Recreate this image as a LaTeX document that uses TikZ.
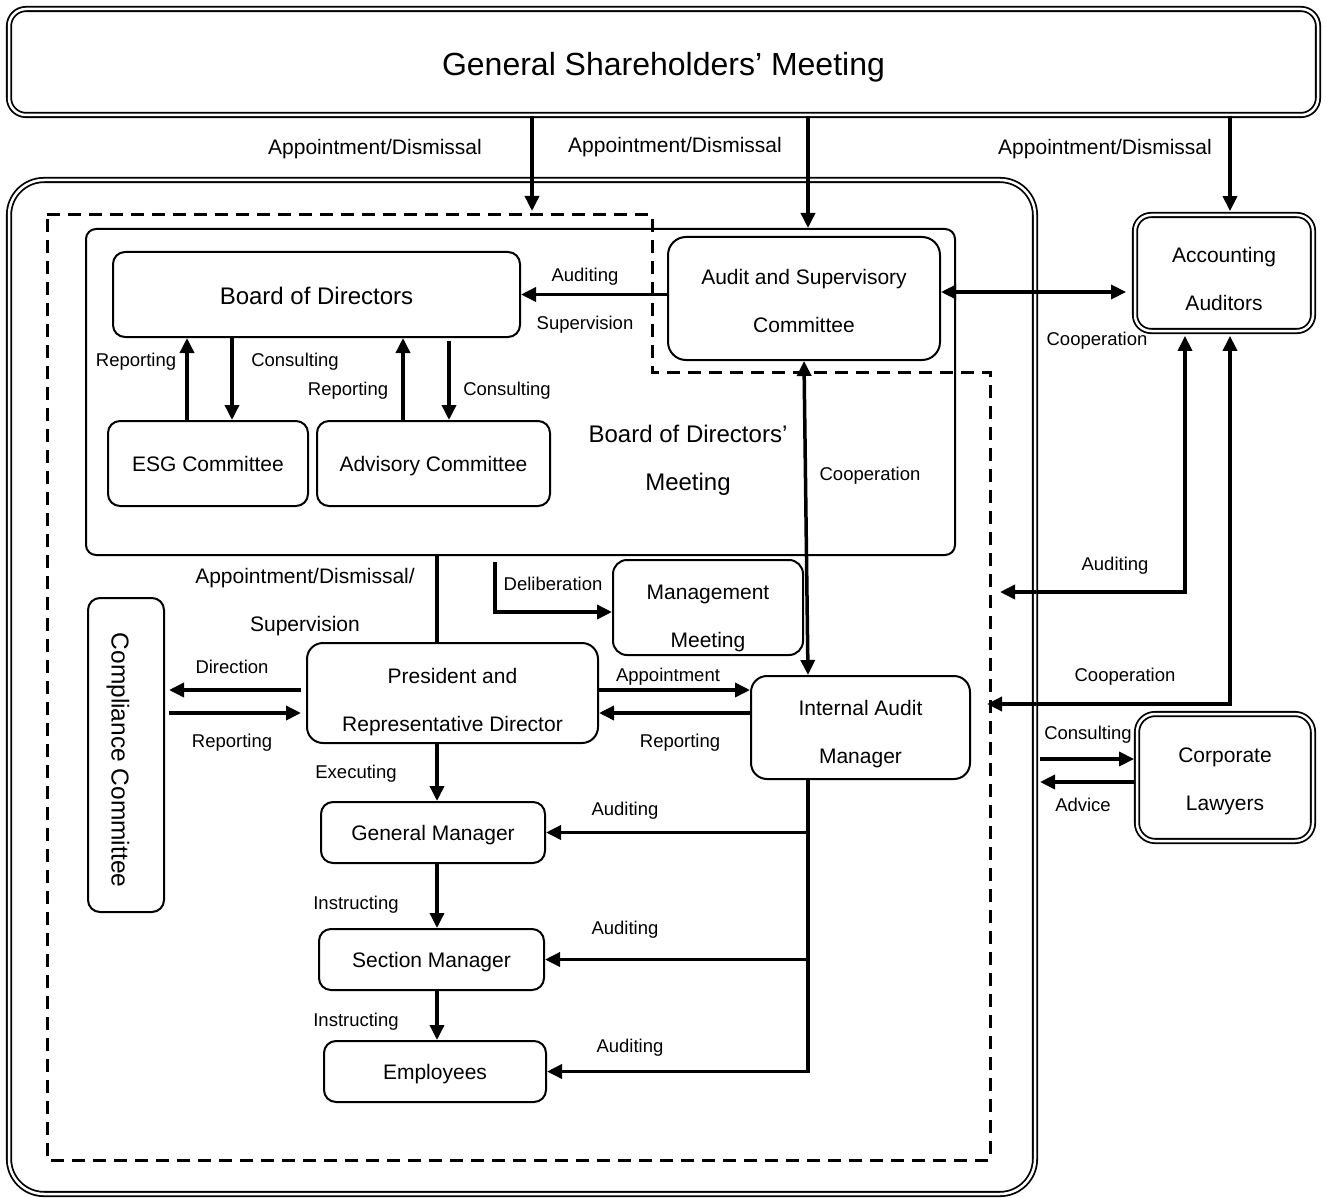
\documentclass[tikz,border=0pt]{standalone}
\usepackage{fontspec}
\setmainfont{Liberation Sans}
\usetikzlibrary{arrows.meta}
\newcommand{\tl}[1]{\rule{0pt}{#1}}
\newcommand{\bl}{\rule[-5pt]{0pt}{5pt}}
\tikzstyle{box}=[rectangle, draw, line width=2pt, rounded corners=12pt, inner sep=0pt, align=center, font=\fontsize{21}{48}\selectfont]
\tikzstyle{one}=[text height=16pt, text depth=0pt]
\tikzstyle{dblbox}=[box, line width=1.8pt, double=white, double distance=2.5pt]
\tikzstyle{lbl}=[inner sep=0pt, font=\fontsize{18.5}{22}\selectfont]
\tikzstyle{biglbl}=[inner sep=0pt, font=\fontsize{21}{24}\selectfont]
\tikzstyle{ln}=[line width=3.5pt]
\tikzstyle{arr}=[line width=3.5pt, -{Triangle[length=15pt,width=14pt]}]
\tikzstyle{darr}=[line width=3.5pt, {Triangle[length=15pt,width=14pt]}-{Triangle[length=15pt,width=14pt]}]
\begin{document}
\begin{tikzpicture}[x=1pt, y=-1pt]
  \useasboundingbox (0,0) rectangle (1327,1198);
  \node[dblbox, rounded corners=17pt, minimum width=1309pt, minimum height=106pt, text height=27pt, text depth=0pt, font=\fontsize{32}{36}\selectfont] (gsm) at (663.5,62) {General Shareholders’ Meeting};
  \draw[line width=1.8pt, double=white, double distance=2.5pt, rounded corners=35pt] (9,180) rectangle (1035,1194);
  \draw[line width=3pt, dash pattern=on 13pt off 8pt] (47,215) -- (652,215) -- (652,372) -- (990,372) -- (990,1160) -- (47,1160) -- cycle;

  \node[box, rounded corners=10pt, minimum width=869pt, minimum height=326pt] (bodm) at (520.5,392) {};
  \node[align=center, inner sep=0pt, font=\fontsize{24}{48}\selectfont] (bodmtxt) at (688,460) {Board of Directors’\\Meeting};
  \node[box, one, text height=20pt, minimum width=407pt, minimum height=85pt, font=\fontsize{24}{28}\selectfont] (bod) at (316.5,294.5) {Board of Directors};
  \node[box, one, minimum width=200pt, minimum height=85pt] (esg) at (208,463.5) {ESG Committee};
  \node[box, one, minimum width=233pt, minimum height=85pt] (adv) at (433.5,463.5) {Advisory Committee};
  \node[box, rounded corners=18pt, minimum width=272pt, minimum height=123pt] (audit) at (804,298.5) {\tl{25pt}Audit and Supervisory\\Committee\bl};
  \node[dblbox, rounded corners=16pt, minimum width=178pt, minimum height=116pt] (acc) at (1224,273) {\tl{32pt}Accounting\\Auditors\bl};
  \node[box, rounded corners=14pt, minimum width=190pt, minimum height=95pt] (mgmt) at (708,607.5) {\tl{37pt}Management\\Meeting\bl};
  \node[box, rounded corners=16pt, minimum width=291pt, minimum height=100pt] (pres) at (452.5,693) {\tl{34pt}President and\\Representative Director\bl};
  \node[box, rounded corners=16pt, minimum width=219pt, minimum height=103pt] (iam) at (860.5,727.5) {\tl{29pt}Internal Audit\\Manager\bl};
  \node[box, minimum width=76pt, minimum height=314pt, label={[xshift=-8pt, yshift=-5pt, rotate=-90, font=\fontsize{24.5}{28}\selectfont]center:Compliance Committee}] (comp) at (126,755) {};
  \node[box, one, minimum width=224pt, minimum height=61pt] (gm) at (433,832.5) {General Manager};
  \node[box, one, minimum width=225pt, minimum height=61pt] (sm) at (431.5,959.5) {Section Manager};
  \node[box, one, minimum width=222pt, minimum height=61pt] (emp) at (435,1071.5) {Employees};
  \node[dblbox, rounded corners=18pt, minimum width=176pt, minimum height=127pt] (law) at (1225,777.5) {\tl{23pt}Corporate\\Lawyers\bl};

  \coordinate (dtop) at (532,215);
  \coordinate (dr1) at (1000,592);
  \coordinate (dr2) at (987,704);
  \coordinate (lc) at (1040,759);
  \coordinate (la) at (1040,782);

  \draw[arr, shorten >=4pt] (gsm.south -| dtop) -- (dtop);
  \draw[arr] (gsm.south -| 808,0) -- (bodm.north -| 808,0);
  \draw[arr, shorten >=3pt] (gsm.south -| 1230,0) -- (acc.north -| 1230,0);
  \draw[arr] (audit.west |- bod.east) -- (bod.east);
  \draw[darr, shorten >=8pt] (audit.east |- 0,292) -- (acc.west |- 0,292);
  \draw[darr] (audit.south) -- (iam.north -| 808,0);
  \draw[arr] (esg.north -| 187,0) -- (bod.south -| 187,0);
  \draw[arr] (bod.south -| 232,0) -- (esg.north -| 232,0);
  \draw[arr] (adv.north -| 403,0) -- (bod.south -| 403,0);
  \draw[arr, shorten <=3pt] (bod.south -| 449,0) -- (adv.north -| 449,0);
  \draw[ln] (bodm.south -| 437,0) -- (pres.north -| 437,0);
  \draw[arr, shorten <=6pt] (bodm.south -| 495,0) |- (mgmt.west |- 0,612);
  \draw[arr, shorten <=5pt, shorten >=4pt] (pres.west |- 0,690) -- (comp.east |- 0,690);
  \draw[arr, shorten <=4pt, shorten >=5pt] (comp.east |- 0,713) -- (pres.west |- 0,713);
  \draw[arr] (pres.east |- 0,690) -- (iam.west |- 0,690);
  \draw[arr] (iam.west |- 0,713) -- (pres.east |- 0,713);
  \draw[arr] (pres.south -| 437,0) -- (gm.north -| 437,0);
  \draw[arr] (gm.south -| 437,0) -- (sm.north -| 437,0);
  \draw[arr] (sm.south -| 437,0) -- (emp.north -| 437,0);
  \draw[arr] (iam.south -| 808,0) |- (emp.east);
  \draw[arr] (gm.east -| 808,0) -- (gm.east);
  \draw[arr] (sm.east -| 808,0) -- (sm.east);
  \draw[darr, shorten >=4pt] (dr1) -| (acc.south -| 1185,0);
  \draw[darr, shorten >=4pt] (dr2) -| (acc.south -| 1230,0);
  \draw[arr, shorten >=2pt] (lc) -- (law.west |- lc);
  \draw[arr, shorten <=2pt] (law.west |- la) -- (la);

  \node[biglbl] (ad1) at (375,149) {Appointment/Dismissal};
  \node[biglbl] (ad2) at (675,147) {Appointment/Dismissal};
  \node[biglbl] (ad3) at (1105,149) {Appointment/Dismissal};
  \node[lbl] (aud1) at (585,277) {Auditing};
  \node[lbl] (sup1) at (585,325) {Supervision};
  \node[lbl] (rep1) at (136,362) {Reporting};
  \node[lbl] (con1) at (295,362) {Consulting};
  \node[lbl] (rep2) at (348,391) {Reporting};
  \node[lbl] (con2) at (507,391) {Consulting};
  \node[lbl] (coop1) at (1097,341) {Cooperation};
  \node[lbl] (coop2) at (870,476) {Cooperation};
  \node[lbl] (aud2) at (1115,566) {Auditing};
  \node[lbl] (coop3) at (1125,677) {Cooperation};
  \node[lbl] (con3) at (1088,735) {Consulting};
  \node[lbl] (adv1) at (1083,805) {Advice};
  \node[biglbl] (ads) at (305,578) {Appointment/Dismissal/};
  \node[biglbl] (sup2) at (305,626) {Supervision};
  \node[lbl] (delib) at (553,584) {Deliberation};
  \node[lbl] (dir) at (232,667) {Direction};
  \node[lbl] (rep3) at (232,743) {Reporting};
  \node[lbl] (appt) at (668,677) {Appointment};
  \node[lbl] (rep4) at (680,743) {Reporting};
  \node[lbl] (exec) at (356,774) {Executing};
  \node[lbl] (ins1) at (356,905) {Instructing};
  \node[lbl] (ins2) at (356,1022) {Instructing};
  \node[lbl] (aud3) at (625,811) {Auditing};
  \node[lbl] (aud4) at (625,930) {Auditing};
  \node[lbl] (aud5) at (630,1048) {Auditing};
\end{tikzpicture}
\end{document}
